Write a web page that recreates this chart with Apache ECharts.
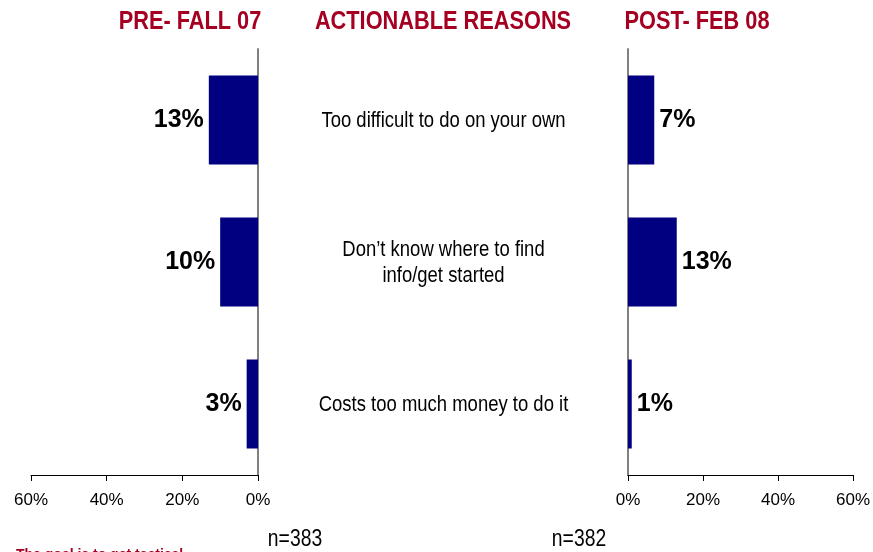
<!DOCTYPE html>
<html>
<head>
<meta charset="utf-8">
<script src="https://cdn.jsdelivr.net/npm/echarts@6/dist/echarts.min.js"></script>
<style>
  html, body { margin: 0; padding: 0; background: #fff; }
  #chart { width: 873px; height: 552px; }
</style>
</head>
<body>
<div id="chart"></div>
<script>
// Actionable reasons, pre (fall 07) vs post (feb 08), in percent.
const reasons = ['Too difficult to do on your own', 'Don\u2019t know where to find\ninfo/get started', 'Costs too much money to do it'];
const preValues = [13, 10, 3];
const postValues = [7, 13, 1];
const tickMax = 60;
const tickStep = 20;
const headings = ['PRE- FALL 07', 'ACTIONABLE REASONS', 'POST- FEB 08'];
const sampleSizes = ['n=383', 'n=382'];

const NAVY = '#000080';
const RED = '#A50021';
const SANS = '"Liberation Sans", Arial, sans-serif';
// no Arial Narrow here, so squeeze Liberation Sans horizontally instead
const NARROW = 0.84;

const chart = echarts.init(document.getElementById('chart'), null, { renderer: 'canvas' });

const xAxisBase = {
  type: 'value', min: 0, max: tickMax, interval: tickStep,
  splitLine: { show: false },
  axisLine: { show: true, lineStyle: { color: '#000', width: 1 } },
  axisTick: { show: true, length: 6, lineStyle: { color: '#000' } },
  axisLabel: { formatter: '{value}%', fontFamily: SANS, fontSize: 17, color: '#000', margin: 17 },
};
const yAxisBase = {
  type: 'category', data: reasons, inverse: true,
  axisLine: { show: true, lineStyle: { color: '#808080', width: 2 } },
  axisTick: { show: false },
  axisLabel: { show: false },
};
const labelBase = { show: true, formatter: '{c}%', fontFamily: SANS, fontWeight: 'bold', fontSize: 25, color: '#000', distance: 5 };

chart.setOption({
  animation: false,
  backgroundColor: '#fff',
  grid: [
    { left: 31, top: 49, width: 227, height: 426 },
    { left: 628, top: 49, width: 225, height: 426 },
  ],
  xAxis: [
    Object.assign({}, xAxisBase, { gridIndex: 0, inverse: true }),
    Object.assign({}, xAxisBase, { gridIndex: 1 }),
  ],
  yAxis: [
    Object.assign({}, yAxisBase, { gridIndex: 0, position: 'right' }),
    Object.assign({}, yAxisBase, { gridIndex: 1, position: 'left' }),
  ],
  series: [
    { type: 'bar', xAxisIndex: 0, yAxisIndex: 0, data: preValues, barWidth: 89, itemStyle: { color: NAVY },
      label: Object.assign({}, labelBase, { position: 'left' }) },
    { type: 'bar', xAxisIndex: 1, yAxisIndex: 1, data: postValues, barWidth: 89, itemStyle: { color: NAVY },
      label: Object.assign({}, labelBase, { position: 'right' }) },
  ],
});

// narrow texts: headings, category names (placed on the category axis), n= counts
const narrowText = (x, y, text, font, fill, sx, extra) => ({
  type: 'text', x, y, scaleX: sx, silent: true,
  style: Object.assign({ text, font, fill, align: 'center', verticalAlign: 'middle' }, extra || {}),
});
const headX = [190, 443, 697];
const graphics = headings.map((h, i) => narrowText(headX[i], 22, h, 'bold 25px ' + SANS, RED, 0.87));
const midX = (chart.convertToPixel({ xAxisIndex: 0 }, 0) + chart.convertToPixel({ xAxisIndex: 1 }, 0)) / 2 + 0.5;
reasons.forEach((r, i) => {
  const y = chart.convertToPixel({ yAxisIndex: 1 }, r);
  graphics.push(narrowText(midX, y + 1, r, '22px ' + SANS, '#000', NARROW, { lineHeight: 26 }));
});
graphics.push(narrowText(295, 540, sampleSizes[0], '23px ' + SANS, '#000', NARROW));
graphics.push(narrowText(579, 540, sampleSizes[1], '23px ' + SANS, '#000', NARROW));
graphics.push({ type: 'text', left: 16, top: 548, silent: true,
  style: { text: 'The goal is to get tactical', font: 'bold 14px ' + SANS, fill: RED } });
chart.setOption({ graphic: graphics });
</script>
</body>
</html>
